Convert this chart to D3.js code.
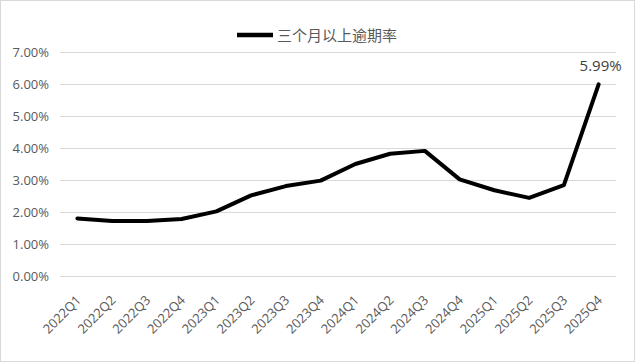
<!DOCTYPE html>
<html><head><meta charset="utf-8">
<script src="https://cdn.jsdelivr.net/npm/d3@7/dist/d3.min.js"></script>
<style>body{margin:0;background:#fff;}svg{display:block;}</style>
</head><body>
<svg id="c" width="635" height="362"></svg>
<script>
const categories = ["2022Q1","2022Q2","2022Q3","2022Q4","2023Q1","2023Q2","2023Q3","2023Q4","2024Q1","2024Q2","2024Q3","2024Q4","2025Q1","2025Q2","2025Q3","2025Q4"];
const values = [1.80,1.72,1.72,1.78,2.02,2.52,2.81,2.98,3.50,3.82,3.91,3.02,2.68,2.44,2.84,5.99];
const yTicks = [0,1,2,3,4,5,6,7];
const seriesName = "三个月以上逾期率";

const svg = d3.select("#c");
const W = 635, H = 362;
svg.append("rect").attr("x",0.5).attr("y",0.5).attr("width",W-1).attr("height",H-1)
  .attr("fill","#fff").attr("stroke","#d9d9d9");

const x = d3.scaleBand().domain(categories).range([60,616]);
const y = d3.scaleLinear().domain([0,7]).range([276,52]);
const font = "'Open Sans', 'Noto Sans', sans-serif";

const g = svg.append("g");
g.selectAll("line.grid").data(yTicks).enter().append("line")
  .attr("x1",60).attr("x2",616).attr("y1",d=>Math.round(y(d))+0.5).attr("y2",d=>Math.round(y(d))+0.5)
  .attr("stroke","#d9d9d9").attr("stroke-width",1);

const yAxis = d3.axisLeft(y).tickValues(yTicks).tickSize(0).tickPadding(11)
  .tickFormat(d=>d.toFixed(2)+"%");
const ya = svg.append("g").attr("transform","translate(60,0)").call(yAxis);
ya.select(".domain").remove();
ya.selectAll("text").attr("font-family",font).attr("font-size",13).attr("fill","#595959").attr("dy","0.38em");

const xAxis = d3.axisBottom(x).tickSize(0).tickPadding(0);
const xa = svg.append("g").attr("transform","translate(0,276)").call(xAxis);
xa.select(".domain").remove();
xa.selectAll("text").attr("font-family",font).attr("font-size",13).attr("fill","#595959")
  .attr("text-anchor","end").attr("dy",0).attr("y",0)
  .attr("transform","translate(4.5,25) rotate(-45)");

const line = d3.line().x((d,i)=>x(categories[i])+x.bandwidth()/2).y(d=>y(d));
svg.append("path").datum(values).attr("d",line).attr("fill","none")
  .attr("stroke","#000").attr("stroke-width",4).attr("stroke-linejoin","round").attr("stroke-linecap","round");

const last = values.length-1;
svg.append("text").attr("x",x(categories[last])+x.bandwidth()/2+2).attr("y",y(values[last])-13)
  .attr("text-anchor","middle").attr("font-family",font).attr("font-size",15).attr("fill","#404040")
  .text(values[last].toFixed(2)+"%");

// legend
svg.append("line").attr("x1",237).attr("x2",273).attr("y1",35).attr("y2",35)
  .attr("stroke","#000").attr("stroke-width",4.5);
svg.append("text").attr("x",277).attr("y",41).attr("font-family","'Noto Sans CJK SC', sans-serif")
  .attr("font-size",15).attr("fill","#595959").text(seriesName);
</script>
</body></html>
